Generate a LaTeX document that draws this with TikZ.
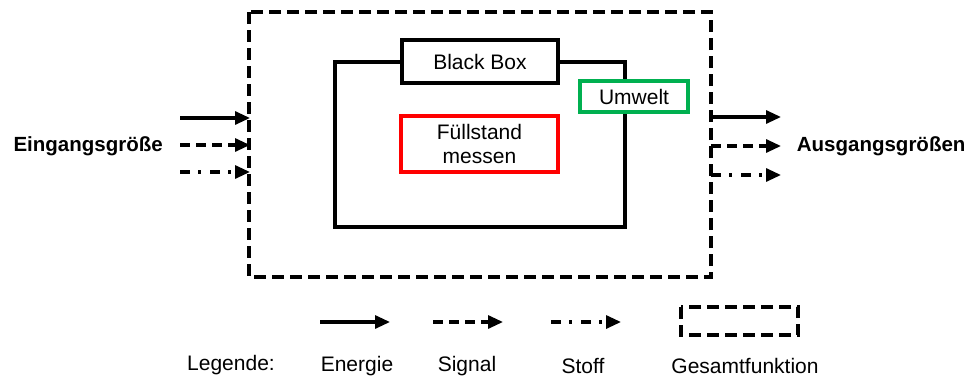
\documentclass[tikz,border=0pt]{standalone}
\usepackage{fontspec}
\setmainfont{Liberation Sans}
\usetikzlibrary{arrows.meta}
\begin{document}
\begin{tikzpicture}[x=1pt,y=-1pt,
  line width=3.1pt,
  lbl/.style={font=\fontsize{21}{24}\selectfont, inner sep=0pt},
  boldlbl/.style={font=\fontsize{20.5}{24}\selectfont\bfseries, inner sep=0pt},
  box/.style={draw, fill=white, inner sep=0pt, font=\fontsize{21}{24}\selectfont, align=center},
  flow/.style={-{Triangle[length=15pt,width=13pt]}},
  energie/.style={flow},
  signal/.style={flow, dash pattern=on 10pt off 6pt},
  stoff/.style={flow, dash pattern=on 10pt off 8pt on 3pt off 9pt},
  gesamt/.style={dash pattern=on 12pt off 6pt}]
\useasboundingbox (0,0) rectangle (971,378);

% overall function boundary
\draw[gesamt] (249,12) rectangle (711,277);
% system boundary
\draw (335,62) rectangle (625,227);

% labelled boxes
\node[box, minimum width=156pt, minimum height=43pt] (bb) at (480,61.5) {Black Box};
\node[box, draw={rgb,255:red,0;green,176;blue,80}, minimum width=108pt, minimum height=31pt] (um) at (634,96.5) {Umwelt};
\node[box, draw={rgb,255:red,255;green,0;blue,0}, minimum width=157pt, minimum height=56pt] (fs) at (479.5,144) {F\"ullstand\\messen};

% inputs and outputs
\node[boldlbl, anchor=west] (ein) at (12,146) {Eingangsgr\"o\ss e};
\node[boldlbl, anchor=east] (aus) at (967,146) {Ausgangsgr\"o\ss en};

\coordinate (i1s) at (180,118); \coordinate (i1e) at (250,118);
\coordinate (i2s) at (180,145); \coordinate (i2e) at (250,145);
\coordinate (i3s) at (180,172); \coordinate (i3e) at (250,172);
\coordinate (o1s) at (711,117); \coordinate (o1e) at (781,117);
\coordinate (o2s) at (711,146); \coordinate (o2e) at (781,146);
\coordinate (o3s) at (711,175); \coordinate (o3e) at (781,175);
\draw[energie] (i1s) -- (i1e);
\draw[signal]  (i2s) -- (i2e);
\draw[stoff]   (i3s) -- (i3e);
\draw[energie] (o1s) -- (o1e);
\draw[signal]  (o2s) -- (o2e);
\draw[stoff]   (o3s) -- (o3e);

% legend
\coordinate (l1s) at (320,322); \coordinate (l1e) at (390,322);
\coordinate (l2s) at (433,322); \coordinate (l2e) at (503,322);
\coordinate (l3s) at (551,322); \coordinate (l3e) at (621,322);
\draw[energie] (l1s) -- (l1e);
\draw[signal]  (l2s) -- (l2e);
\draw[stoff]   (l3s) -- (l3e);
\draw[gesamt] (681,307) rectangle (798,335);

\node[lbl] (leg) at (231,365) {Legende:};
\node[lbl] (en) at (357,366) {Energie};
\node[lbl] (si) at (467,366) {Signal};
\node[lbl] (st) at (583,366) {Stoff};
\node[lbl] (ge) at (745,366) {Gesamtfunktion};
\end{tikzpicture}
\end{document}
